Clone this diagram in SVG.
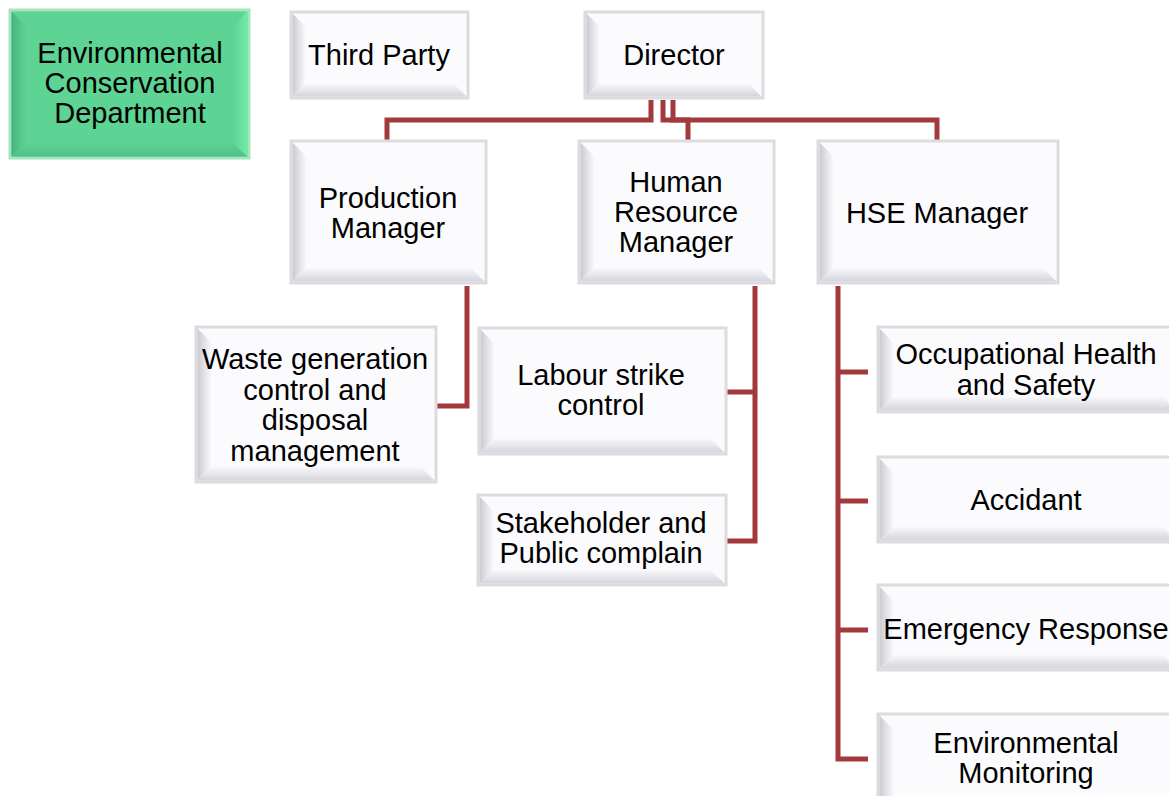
<svg xmlns="http://www.w3.org/2000/svg" width="1169" height="796" viewBox="0 0 1169 796">
<defs>
<linearGradient id="gl" x1="0" y1="0" x2="1" y2="0"><stop offset="0" stop-color="#cacad2"/><stop offset="1" stop-color="#f8f8fb"/></linearGradient>
<linearGradient id="gb" x1="0" y1="0" x2="0" y2="1"><stop offset="0" stop-color="#f8f8fb"/><stop offset="1" stop-color="#d4d4dc"/></linearGradient>
<linearGradient id="ggl" x1="0" y1="0" x2="1" y2="0"><stop offset="0" stop-color="#48b47c"/><stop offset="1" stop-color="#5dd394"/></linearGradient>
<linearGradient id="ggb" x1="0" y1="0" x2="0" y2="1"><stop offset="0" stop-color="#5dd394"/><stop offset="1" stop-color="#4fc287"/></linearGradient>
<linearGradient id="ggr" x1="0" y1="0" x2="1" y2="0"><stop offset="0" stop-color="#5dd394"/><stop offset="1" stop-color="#74eaa8"/></linearGradient>
</defs>
<style>
.o{fill:#fbfbfd;stroke:#dcdce0;stroke-width:3}
.l{fill:url(#gl)}
.b{fill:url(#gb)}
.go{fill:#5dd394;stroke:#a6e6bf;stroke-width:3}
.gl{fill:url(#ggl)}
.gb{fill:url(#ggb)}
.gr{fill:url(#ggr)}
text{font-family:"Liberation Sans",Arial,sans-serif;font-size:29px;fill:#000;text-anchor:middle}
.c{fill:none;stroke:#a23a3d;stroke-width:5;stroke-linejoin:miter}
</style>
<rect width="1169" height="796" fill="#ffffff"/>

<g id="connectors">
<path class="c" d="M651,100 V120 H387 V141"/>
<path class="c" d="M663,100 V120 H688 V141"/>
<path class="c" d="M673,100 V120 H937 V141"/>
<path class="c" d="M467,286 V406 H436"/>
<path class="c" d="M755,286 V541 H726 M755,392 H726"/>
<path class="c" d="M838,286 V759 H868 M838,372 H868 M838,501 H868 M838,630 H868"/>
</g>

<g id="env-dept">
<rect class="go" x="10" y="10" width="239" height="148"/>
<polygon class="gl" points="11.5,11.5 26,26 26,143 11.5,156.5"/>
<polygon class="gb" points="11.5,156.5 26,143 233,143 247.5,156.5"/>
<polygon class="gr" points="247.5,11.5 233,26 233,143 247.5,156.5"/>
<text x="130" y="63">Environmental</text>
<text x="130" y="93">Conservation</text>
<text x="130" y="123">Department</text>
</g>

<g id="third-party">
<rect class="o" x="291" y="12" width="177" height="86"/>
<polygon class="l" points="292.5,13.5 305,26 305,84 292.5,96.5"/>
<polygon class="b" points="292.5,96.5 305,84 454,84 466.5,96.5"/>
<text x="379" y="65">Third Party</text>
</g>

<g id="director">
<rect class="o" x="585" y="12" width="178" height="86"/>
<polygon class="l" points="586.5,13.5 599,26 599,84 586.5,96.5"/>
<polygon class="b" points="586.5,96.5 599,84 749,84 761.5,96.5"/>
<text x="674" y="65">Director</text>
</g>

<g id="production-manager">
<rect class="o" x="291" y="141" width="195" height="142"/>
<polygon class="l" points="292.5,142.5 306,156 306,268 292.5,281.5"/>
<polygon class="b" points="292.5,281.5 306,268 471,268 484.5,281.5"/>
<text x="388" y="208">Production</text>
<text x="388" y="238">Manager</text>
</g>

<g id="hr-manager">
<rect class="o" x="579" y="141" width="195" height="142"/>
<polygon class="l" points="580.5,142.5 594,156 594,268 580.5,281.5"/>
<polygon class="b" points="580.5,281.5 594,268 759,268 772.5,281.5"/>
<text x="676" y="192">Human</text>
<text x="676" y="222">Resource</text>
<text x="676" y="252">Manager</text>
</g>

<g id="hse-manager">
<rect class="o" x="818" y="141" width="240" height="142"/>
<polygon class="l" points="819.5,142.5 833,156 833,268 819.5,281.5"/>
<polygon class="b" points="819.5,281.5 833,268 1043,268 1056.5,281.5"/>
<text x="937" y="223">HSE Manager</text>
</g>

<g id="waste">
<rect class="o" x="196" y="327" width="240" height="155"/>
<polygon class="l" points="197.5,328.5 211,342 211,467 197.5,480.5"/>
<polygon class="b" points="197.5,480.5 211,467 421,467 434.5,480.5"/>
<text x="315" y="369">Waste generation</text>
<text x="315" y="400">control and</text>
<text x="315" y="430">disposal</text>
<text x="315" y="461">management</text>
</g>

<g id="labour">
<rect class="o" x="479" y="328" width="247" height="126"/>
<polygon class="l" points="480.5,329.5 494,343 494,439 480.5,452.5"/>
<polygon class="b" points="480.5,452.5 494,439 711,439 724.5,452.5"/>
<text x="601" y="385">Labour strike</text>
<text x="601" y="415">control</text>
</g>

<g id="stakeholder">
<rect class="o" x="478" y="495" width="248" height="90"/>
<polygon class="l" points="479.5,496.5 493,510 493,570 479.5,583.5"/>
<polygon class="b" points="479.5,583.5 493,570 711,570 724.5,583.5"/>
<text x="601" y="533">Stakeholder and</text>
<text x="601" y="563">Public complain</text>
</g>

<g id="ohs">
<rect class="o" x="878" y="327" width="300" height="85"/>
<polygon class="l" points="879.5,328.5 893,342 893,397 879.5,410.5"/>
<polygon class="b" points="879.5,410.5 893,397 1163,397 1176.5,410.5"/>
<text x="1026" y="364">Occupational Health</text>
<text x="1026" y="395">and Safety</text>
</g>

<g id="accidant">
<rect class="o" x="878" y="457" width="300" height="85"/>
<polygon class="l" points="879.5,458.5 893,472 893,527 879.5,540.5"/>
<polygon class="b" points="879.5,540.5 893,527 1163,527 1176.5,540.5"/>
<text x="1026" y="510">Accidant</text>
</g>

<g id="emergency">
<rect class="o" x="878" y="585" width="300" height="85"/>
<polygon class="l" points="879.5,586.5 893,600 893,655 879.5,668.5"/>
<polygon class="b" points="879.5,668.5 893,655 1163,655 1176.5,668.5"/>
<text x="1026" y="639">Emergency Response</text>
</g>

<g id="env-monitoring">
<rect class="o" x="878" y="714" width="300" height="100"/>
<polygon class="l" points="879.5,715.5 893,729 893,799 879.5,812"/>
<text x="1026" y="753">Environmental</text>
<text x="1026" y="783">Monitoring</text>
</g>
</svg>
